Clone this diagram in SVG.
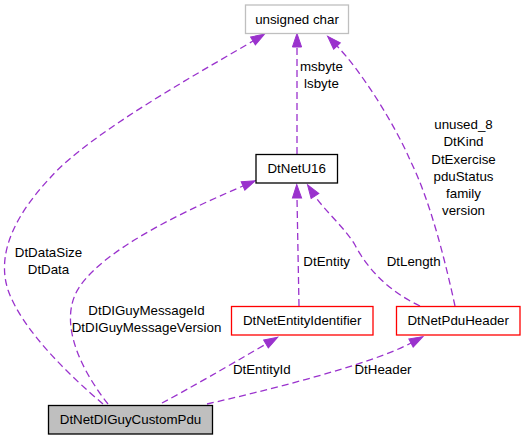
<svg xmlns="http://www.w3.org/2000/svg" width="525" height="440" viewBox="0 0 525 440">
<style>
text{font-family:"Liberation Sans",Arial,sans-serif;font-size:13.33px;fill:#000;text-anchor:middle}
.box{fill:#fff;stroke-width:1.3}
.edge{fill:none;stroke:#9a32cd;stroke-width:1.3;stroke-dasharray:7,4}
</style>
<defs>
<marker id="arr" markerUnits="userSpaceOnUse" markerWidth="14" markerHeight="10" refX="0" refY="4.6" orient="auto" overflow="visible">
<path d="M0,0 L13.5,4.6 L0,9.2 z" fill="#9a32cd" stroke="#9a32cd" stroke-width="1"/>
</marker>
</defs>
<rect width="525" height="440" fill="#fff"/>
<g id="connectors">
<path class="edge" marker-end="url(#arr)" d="M103,404 C70,376 22,330 8,290 C-5,250 20,210 50,178 C90,132 213,65 253,41"/>
<path class="edge" marker-end="url(#arr)" d="M108,404 C85,375 60,330 75,295 C95,250 201,204 243,186"/>
<path class="edge" marker-end="url(#arr)" d="M162,403 C190,388 225,368 266,344"/>
<path class="edge" marker-end="url(#arr)" d="M207,404 C260,392 370,365 411,343"/>
<path class="edge" marker-end="url(#arr)" d="M299,306 L297,198"/>
<path class="edge" marker-end="url(#arr)" d="M420,306 C390,292 368,270 355,245 C345,228 325,211 315,196"/>
<path class="edge" marker-end="url(#arr)" d="M297,154 L297,47"/>
<path class="edge" marker-end="url(#arr)" d="M455,306 C445,260 430,200 410,160 C395,125 362,72 337,46"/>
<text x="48.5" y="256.5">DtDataSize</text>
<text x="48.5" y="274">DtData</text>
<text x="146.5" y="315">DtDIGuyMessageId</text>
<text x="146.5" y="332.3">DtDIGuyMessageVersion</text>
<text x="261.8" y="374">DtEntityId</text>
<text x="383" y="374">DtHeader</text>
<text x="326.7" y="265.7">DtEntity</text>
<text x="413.7" y="265.7">DtLength</text>
<text x="321.5" y="70.7">msbyte</text>
<text x="321.5" y="87.9">lsbyte</text>
<text x="463.5" y="129.2">unused_8</text>
<text x="463.5" y="146.4">DtKind</text>
<text x="463.5" y="163.6">DtExercise</text>
<text x="463.5" y="180.8">pduStatus</text>
<text x="463.5" y="198">family</text>
<text x="463.5" y="215.2">version</text>
</g>
<g id="node-unsigned-char">
<rect class="box" x="245.5" y="5" width="103" height="28.5" stroke="#bfbfbf"/>
<text x="297" y="23.7">unsigned char</text>
</g>
<g id="node-DtNetU16">
<rect class="box" x="256" y="154.5" width="81.5" height="28.5" stroke="#000"/>
<text x="296.7" y="173.2">DtNetU16</text>
</g>
<g id="node-DtNetEntityIdentifier">
<rect class="box" x="231.5" y="306.5" width="141.5" height="28.5" stroke="#ff0000"/>
<text x="302.2" y="325.3">DtNetEntityIdentifier</text>
</g>
<g id="node-DtNetPduHeader">
<rect class="box" x="396.5" y="306.5" width="123.5" height="28.5" stroke="#ff0000"/>
<text x="458.2" y="325.3">DtNetPduHeader</text>
</g>
<g id="node-DtNetDIGuyCustomPdu">
<rect x="48.5" y="405.5" width="164" height="28.5" fill="#bfbfbf" stroke="#000" stroke-width="1.3"/>
<text x="130.5" y="424.3">DtNetDIGuyCustomPdu</text>
</g>
</svg>
